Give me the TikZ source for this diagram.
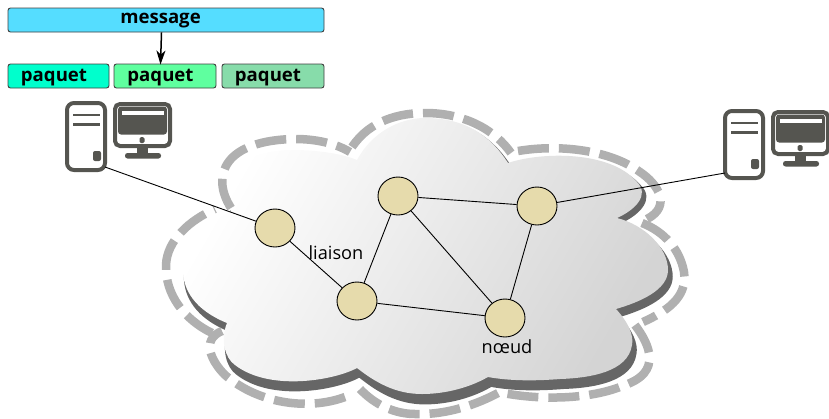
\documentclass[tikz,border=0pt]{standalone}
\usepackage{fontspec}
\usetikzlibrary{shapes.geometric,arrows.meta}
\setmainfont{Open Sans}
\definecolor{nodefill}{HTML}{E6DBAC}
\definecolor{pcgray}{HTML}{555550}
\definecolor{shadowgray}{HTML}{666666}
\definecolor{dashgray}{HTML}{B0B0B0}
\definecolor{msgblue}{HTML}{55DDFF}
\definecolor{pktA}{HTML}{00FFCC}
\definecolor{pktB}{HTML}{5FFF9F}
\definecolor{pktC}{HTML}{87DCAA}
\begin{document}
\begin{tikzpicture}[x=1pt,y=-1pt,
  box/.style={draw=black!75,line width=.9pt,rounded corners=2.5pt,inner sep=0pt,minimum height=24pt},
  boxtext/.style={font=\fontsize{18.6}{18.6}\selectfont\bfseries,inner sep=0pt,text=black,anchor=base},
  lab/.style={font=\fontsize{18.2}{18.2}\selectfont,inner sep=0pt,text=black,anchor=base},
  routeur/.style={ellipse,draw=black,line width=.9pt,fill=nodefill,minimum width=40pt,minimum height=38pt,inner sep=0pt},
  link/.style={draw=black,line width=.9pt},
  dashline/.style={draw=dashgray,line width=8.5pt,dash pattern=on 31pt off 10pt},
  pcline/.style={draw=pcgray,line width=4pt},
  pcfill/.style={fill=pcgray,draw=none},
  computer/.pic={
    \draw[pcline,rounded corners=7pt] (67,103) rectangle (105,170);
    \draw[draw=pcgray,line width=2.4pt] (73,115) -- (100,115) (73,124.5) -- (100,124.5);
    \fill[pcfill,rounded corners=2pt] (93,151) rectangle (101,161);
    \draw[pcline,rounded corners=5pt] (115,104) rectangle (170,146);
    \fill[pcfill,rounded corners=3pt] (118,106.5) rectangle (167,134.5);
    \fill[white] (122,111) rectangle (164,115);
    \fill[pcfill,rounded corners=1.5pt] (139.5,137) rectangle (144.5,143);
    \fill[pcfill] (137,147) rectangle (148,155);
    \fill[pcfill,rounded corners=2.5pt] (125,153) rectangle (161,158.5);
  }]
\useasboundingbox (0,0) rectangle (829,418);
\def\cloudbody{
  (357,160) .. controls (372,132) and (400,118) .. (425,118)
  .. controls (465,118) and (490,135) .. (508,163)
  .. controls (540,152) and (610,150) .. (637,182)
  .. controls (650,195) and (635,210) .. (617,218)
  .. controls (645,225) and (668,248) .. (668,270)
  .. controls (668,290) and (640,302) .. (616,309)
  .. controls (628,322) and (634,335) .. (632,345)
  .. controls (628,372) and (590,378) .. (560,379)
  .. controls (535,381) and (510,381) .. (488,377)
  .. controls (465,390) and (440,394) .. (422,394)
  .. controls (395,394) and (375,382) .. (357,368)
  .. controls (335,380) and (270,392) .. (235,365)
  .. controls (225,358) and (220,340) .. (227,323)
  .. controls (195,310) and (183,290) .. (183,270)
  .. controls (183,245) and (205,222) .. (231,212)
  .. controls (222,190) and (225,150) .. (293,150)
  .. controls (315,150) and (340,153) .. (357,160) -- cycle}
% shadow
\begin{scope}[shift={(-0.6,-1.4)},xscale=1.008,yscale=1.03]
\fill[shadowgray] \cloudbody;
\end{scope}
% cloud body
\path[left color=white,right color=black!17,shading angle=60] \cloudbody;
% dashed outline, lobe by lobe
\draw[dashline] (352,147) .. controls (370,120) and (400,113) .. (425,113) .. controls (465,113) and (495,130) .. (511,153);
\draw[dashline] (518,151) .. controls (560,144) and (610,150) .. (640,172) .. controls (658,184) and (672,206) .. (647,219);
\draw[dashline] (642,223) .. controls (665,232) and (680,250) .. (684,272) .. controls (688,298) and (665,312) .. (643,322);
\draw[dashline] (635,325) .. controls (650,345) and (662,372) .. (625,385) .. controls (590,400) and (540,400) .. (503,393);
\draw[dashline] (498,393) .. controls (470,408) and (440,415) .. (415,414) .. controls (395,414) and (375,405) .. (360,389);
\draw[dashline] (345,397) .. controls (310,410) and (260,405) .. (225,375) .. controls (212,362) and (200,340) .. (222,331);
\draw[dashline] (212,333) .. controls (185,320) and (165,295) .. (166,265) .. controls (167,240) and (190,220) .. (215,209);
\draw[dashline] (231,208) .. controls (210,175) and (225,140) .. (295,139) .. controls (315,139) and (335,143) .. (350,152);
% computers
\pic at (0,0) {computer};
\pic at (658,8) {computer};
\coordinate (pcL) at (105,167);
\coordinate (pcR) at (725,173);
% nodes
\node[routeur] (n1) at (275,228) {};
\node[routeur] (n2) at (398,196) {};
\node[routeur] (n3) at (357,301) {};
\node[routeur] (n4) at (537,206) {};
\node[routeur] (n5) at (505,318) {};
\draw[link] (pcL) -- (n1);
\draw[link] (n4) -- (pcR);
\draw[link] (n1) -- (n3);
\draw[link] (n2) -- (n3);
\draw[link] (n2) -- (n4);
\draw[link] (n2) -- (n5);
\draw[link] (n3) -- (n5);
\draw[link] (n4) -- (n5);
\node[lab] (tl) at (336,259) {liaison};
\node[lab] (tn) at (507,353) {nœud};
% top boxes
\node[box,fill=msgblue,minimum width=316pt] (msg) at (166,20) {};
\node[box,fill=pktA,minimum width=101pt] (p1) at (58.5,76) {};
\node[box,fill=pktB,minimum width=102pt] (p2) at (165,76) {};
\node[box,fill=pktC,minimum width=102pt] (p3) at (273,76) {};
\node[boxtext] (tm) at (160.5,23) {message};
\node[boxtext] (t1) at (54,81) {paquet};
\node[boxtext] (t2) at (160.5,81) {paquet};
\node[boxtext] (t3) at (268,81) {paquet};
\draw[-{Stealth[length=14pt,width=9pt,inset=4pt]},black,line width=1.5pt] ([xshift=-4.5pt]msg.south) -- ([xshift=-4.5pt,yshift=-1pt]p2.north);
\end{tikzpicture}
\end{document}
